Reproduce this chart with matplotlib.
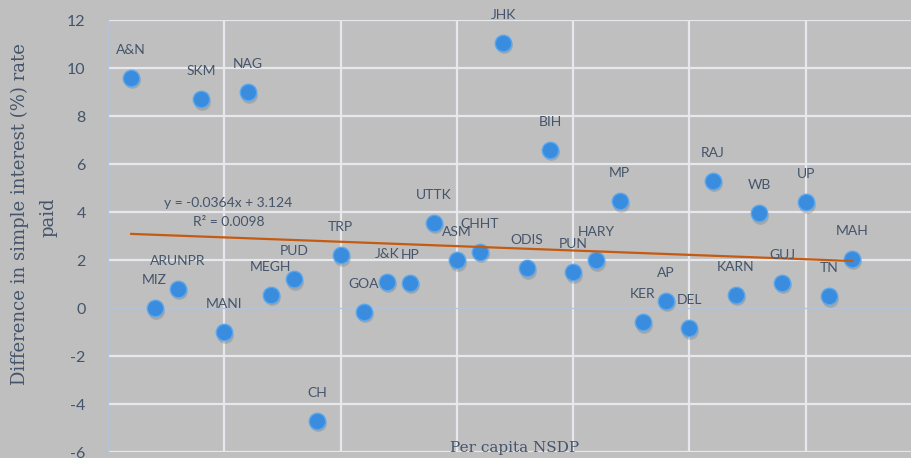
import matplotlib
matplotlib.use("Agg")
import matplotlib.pyplot as plt
from matplotlib.transforms import offset_copy

plt.rcParams["axes.unicode_minus"] = False

states = ["A&N", "MIZ", "ARUNPR", "SKM", "MANI", "NAG", "MEGH", "PUD", "CH", "TRP",
          "GOA", "J&K", "HP", "UTTK", "ASM", "CHHT", "JHK", "ODIS", "BIH", "PUN",
          "HARY", "MP", "KER", "AP", "DEL", "RAJ", "KARN", "WB", "GUJ", "UP", "TN", "MAH"]
rank = list(range(1, 33))
diff = [9.6, 0.0, 0.8, 8.7, -1.0, 9.0, 0.55, 1.2, -4.7, 2.2,
        -0.15, 1.1, 1.05, 3.55, 2.0, 2.35, 11.05, 1.65, 6.6, 1.5,
        2.0, 4.45, -0.6, 0.3, -0.85, 5.3, 0.55, 3.95, 1.05, 4.4, 0.5, 2.05]
slope, intercept, r2 = -0.0364, 3.124, 0.0098
yticks = list(range(-6, 13, 2))
xgrid = [5, 10, 15, 20, 25, 30, 35]

BG = "#BFBFBF"
TXT = "#44546A"

fig = plt.figure(figsize=(9.11, 4.58), dpi=100, facecolor=BG)
W, H = 911, 458
ax = fig.add_axes([108 / W, (458 - 452) / H, 814 / W, 432 / H])
ax.set_facecolor(BG)
ax.set_xlim(0, 35)
ax.set_ylim(-6, 12)

for y in yticks:
    if y != 0:
        ax.axhline(y, color="#E6E8EE", lw=1.6, zorder=1)
for x in xgrid:
    ax.axvline(x, color="#E6E8EE", lw=1.6, zorder=1)
ax.axhline(0, color="#B4C3DA", lw=0.9, zorder=1.5)

for s in ["top", "right", "bottom"]:
    ax.spines[s].set_visible(False)
ax.spines["left"].set_color("#B4C3DA")
ax.spines["left"].set_linewidth(0.9)

ax.set_xticks([])
ax.set_yticks(yticks)
ax.tick_params(axis="y", length=0, pad=16, labelsize=11.5, labelcolor=TXT)
for lab in ax.get_yticklabels():
    lab.set_fontfamily("Lato")

# shadow
sh = offset_copy(ax.transData, fig=fig, x=1, y=-2.5, units="dots")
ax.scatter(rank, diff, s=145, color="#6F6F6F", alpha=0.3, lw=0, transform=sh, zorder=2)
ax.scatter(rank, diff, s=140, facecolor="#3A8DDE", edgecolor="#5AA7EE", lw=1.0, zorder=3)

# trendline
tx = [rank[0], rank[-1]]
ty = [slope * v + intercept for v in tx]
ax.plot(tx, ty, color="#C55A11", lw=1.6, zorder=4)

for name, xv, yv in zip(states, rank, diff):
    ax.annotate(name, (xv, yv), xytext=(0, 28), textcoords="offset pixels",
                ha="center", va="center", fontsize=10, color=TXT, family="Lato", zorder=5)

fig.text(228 / W, 1 - 203 / H, f"y = {slope}x + {intercept}",
         ha="center", va="center", fontsize=10, color=TXT, family="Lato")
fig.text(229 / W, 1 - 222 / H, f"R² = {r2}",
         ha="center", va="center", fontsize=10, color=TXT, family="Lato")

fig.text(20 / W, 1 - 214 / H, "Difference in simple interest (%) rate", rotation=90,
         ha="center", va="center", fontsize=13, color=TXT, family="DejaVu Serif")
fig.text(48 / W, 1 - 217 / H, "paid", rotation=90,
         ha="center", va="center", fontsize=13, color=TXT, family="DejaVu Serif")
fig.text(515 / W, 1 - 448 / H, "Per capita NSDP", ha="center", va="center",
         fontsize=11, color=TXT, family="DejaVu Serif")

fig.savefig("out.png", dpi=100, facecolor=BG)
